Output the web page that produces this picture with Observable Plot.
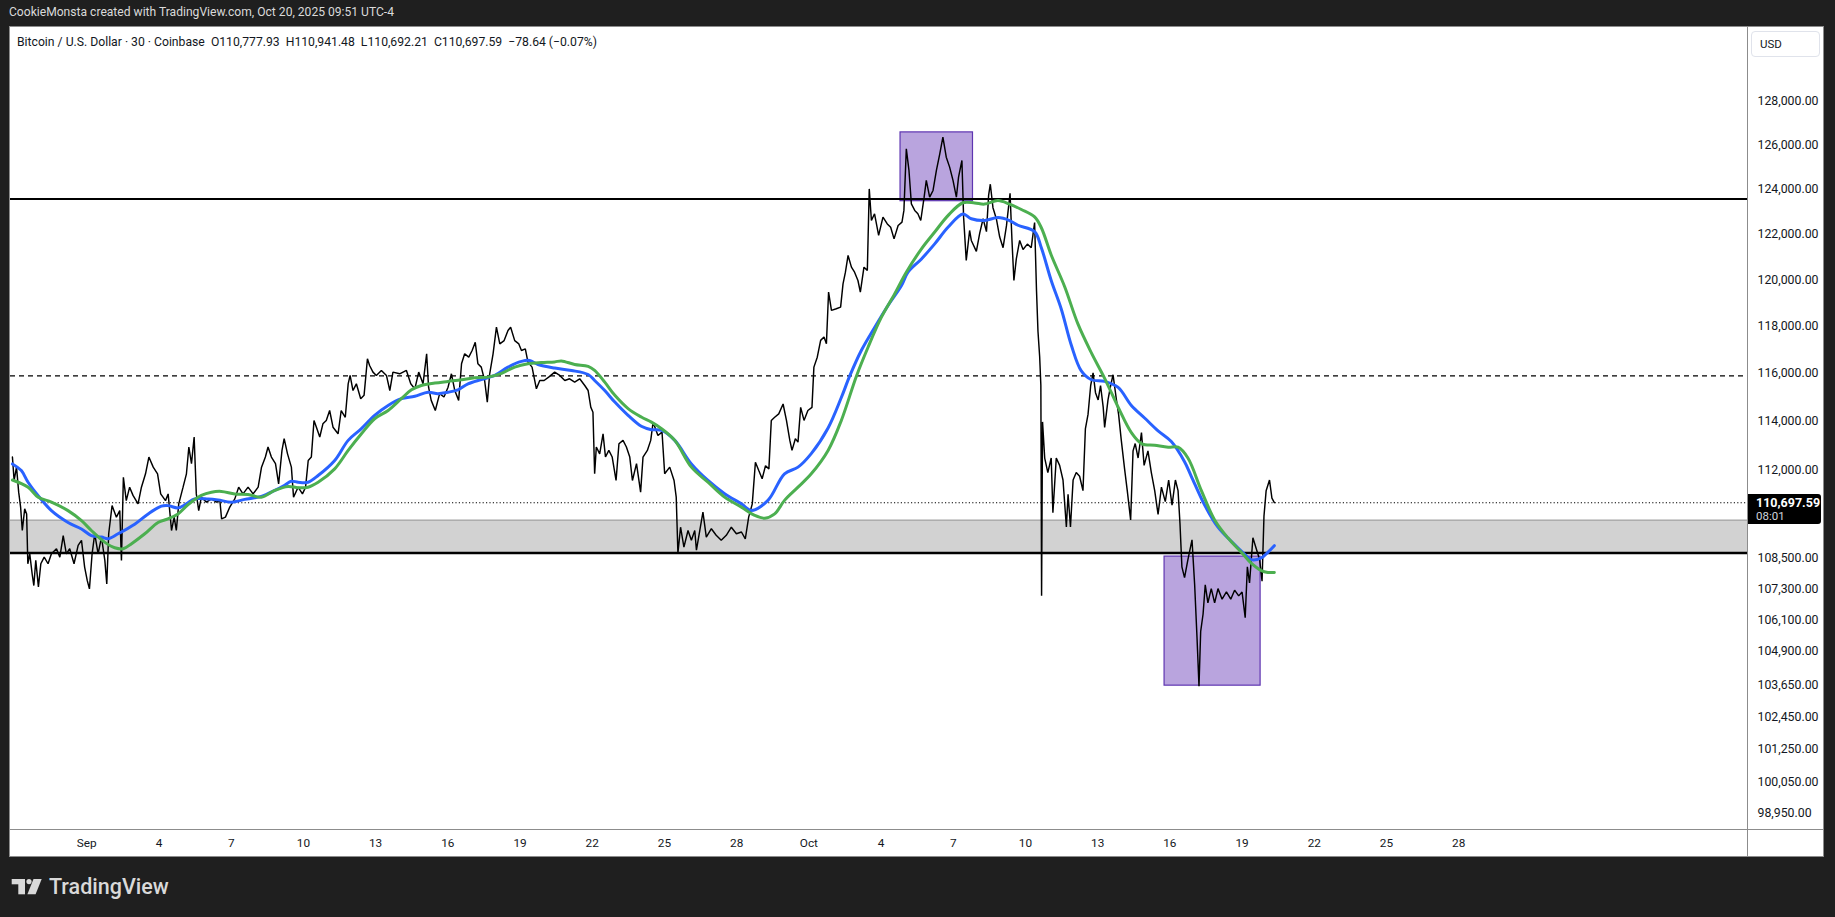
<!DOCTYPE html>
<html><head><meta charset="utf-8">
<script src="https://cdn.jsdelivr.net/npm/d3@7"></script>
<script src="https://cdn.jsdelivr.net/npm/@observablehq/plot@0.6"></script>
<style>
html,body{margin:0;padding:0;background:#1f1f1f;width:1835px;height:917px;overflow:hidden;font-family:Roboto,"Noto Sans",sans-serif;}
#credit{position:absolute;left:9px;top:4px;color:#dadada;font-size:12.1px;line-height:17px;white-space:pre;}
#panel{position:absolute;left:9px;top:26px;width:1813px;height:829px;background:#fff;border:1px solid #8c8c8c;}
#chart{position:absolute;left:10px;top:27px;}
#legend{position:absolute;left:17px;top:34px;color:#131722;font-size:12.2px;line-height:16px;white-space:pre;z-index:3;}
.sep{position:absolute;background:#8c8c8c;z-index:3;}
#usd{position:absolute;left:1751px;top:31px;width:67px;height:24px;border:1px solid #e0e3eb;border-radius:4px;color:#131722;font-size:11.5px;line-height:24px;box-sizing:content-box;z-index:3;}
#usd span{position:absolute;left:8px;}
#plabel{position:absolute;left:1748px;width:73px;height:30px;background:#000;border-radius:0 3px 3px 0;color:#fff;z-index:3;}
#plabel .v{position:absolute;left:8px;top:1px;font-size:12.5px;font-weight:700;}
#plabel .t{position:absolute;left:8px;top:15px;font-size:11.5px;color:#d1d4dc;}
#logo{position:absolute;left:0;top:870px;}
</style></head><body>
<div id="credit"></div>
<div id="panel"></div>
<div id="chart"></div>
<div id="legend"></div>
<div class="sep" style="left:10px;top:829px;width:1813px;height:1px;"></div>
<div class="sep" style="left:1747px;top:27px;width:1px;height:829px;"></div>
<div id="usd"><span></span></div>
<div id="plabel"><span class="v"></span><span class="t"></span></div>
<svg id="logo" width="200" height="40" viewBox="0 0 200 40">
  <rect x="11.7" y="9" width="13.3" height="5.3" fill="#d9d9d9"/>
  <rect x="18.3" y="9" width="6.7" height="15.3" fill="#d9d9d9"/>
  <circle cx="29" cy="11.6" r="2.6" fill="#d9d9d9"/>
  <polygon points="33.5,9 41.7,9 35.6,24.3 27.4,24.3" fill="#d9d9d9"/>
  <text x="49" y="24.3" fill="#d9d9d9" font-family="Roboto, sans-serif" font-size="21.5" font-weight="500" id="logotext"></text>
</svg>
<script>
// ---------- text ----------
const creditText = "CookieMonsta created with TradingView.com, Oct 20, 2025 09:51 UTC-4";
const legendText = "Bitcoin / U.S. Dollar \u00b7 30 \u00b7 Coinbase  O110,777.93  H110,941.48  L110,692.21  C110,697.59  \u221278.64 (\u22120.07%)";
const brandText = "TradingView";
const currencyText = "USD";
const countdownText = "08:01";

// ---------- levels (USD) ----------
const resistanceLevel = 123550;
const midDashedLevel = 115890;
const bandTop = 110000;
const supportLevel = 108700;
const lastClose = 110697.59;

// ---------- highlighted boxes (days since Sep 1, prices) ----------
const boxStart = [33.81, 44.78];
const boxEnd = [36.82, 48.77];
const boxTop = [126560, 108560];
const boxBottom = [123450, 103610];

// ---------- axes ----------
const yTickValues = [128000,126000,124000,122000,120000,118000,116000,114000,112000,108500,107300,106100,104900,103650,102450,101250,100050,98950];
const xTickDays = [0,3,6,9,12,15,18,21,24,27,30,33,36,39,42,45,48,51,54,57];
const xDomainDays = [-3.17, 69.0];
const yDomain = [98358, 131453];

// ---------- price path [days since Sep 1, price] ----------
const pricePath = [
[-3.09,112540],[-3.02,111590],[-2.92,112130],[-2.83,111120],[-2.75,110520],[-2.68,109590],[-2.58,110450],[-2.50,110250],[-2.45,108280],[-2.37,108670],[-2.27,107880],[-2.20,107430],[-2.12,108410],[-2.01,107380],[-1.91,108280],[-1.77,108540],[-1.61,108280],[-1.47,108670],[-1.26,108870],[-1.12,108540],[-0.98,109390],[-0.85,108670],[-0.71,108870],[-0.53,108280],[-0.36,109000],[-0.22,109200],[-0.09,108150],[0.02,107620],[0.11,107300],[0.22,108670],[0.33,109460],[0.47,108670],[0.61,109330],[0.75,108410],[0.83,107490],[0.91,109460],[1.05,110580],[1.23,110120],[1.37,110380],[1.44,108410],[1.52,111720],[1.64,110780],[1.78,111320],[1.92,110990],[2.13,110650],[2.27,111320],[2.44,111860],[2.58,112540],[2.76,112130],[2.94,111860],[3.07,111050],[3.27,110780],[3.38,111050],[3.52,109590],[3.63,110120],[3.72,109590],[3.82,110650],[4.00,111320],[4.14,111860],[4.24,112950],[4.35,112270],[4.46,113360],[4.55,111050],[4.65,110380],[4.76,110920],[4.97,110720],[5.18,110850],[5.39,110720],[5.53,110780],[5.60,110050],[5.76,110120],[5.94,110520],[6.15,110850],[6.31,111320],[6.49,111050],[6.70,111320],[6.91,111050],[7.12,111320],[7.26,112130],[7.42,112540],[7.53,112950],[7.67,112540],[7.84,112270],[7.97,111450],[8.11,112810],[8.20,113290],[8.34,112670],[8.50,112130],[8.59,110920],[8.78,111320],[8.96,111050],[9.09,111320],[9.20,112400],[9.33,112540],[9.44,114040],[9.54,113760],[9.68,113360],[9.81,113900],[9.95,114040],[10.09,114450],
[10.23,113760],[10.44,113490],[10.57,114450],[10.74,114170],[10.86,115560],[10.94,115910],[11.06,115280],[11.20,115560],[11.38,114940],[11.52,115080],[11.66,116610],[11.75,116330],[11.89,116050],[12.03,115910],[12.24,116120],[12.45,115910],[12.59,115280],[12.72,116050],[13.00,115980],[13.28,116120],[13.46,115560],[13.63,115350],[13.79,116050],[13.97,115560],[14.12,116820],[14.20,115420],[14.31,114870],[14.48,114450],[14.66,115150],[14.84,115010],[15.01,115420],[15.15,115980],[15.29,115280],[15.45,114870],[15.57,116400],[15.70,116820],[15.87,116680],[16.01,116960],[16.14,117310],[16.25,116400],[16.39,116260],[16.53,115700],[16.64,114800],[16.74,115980],[16.88,116820],[17.02,117950],[17.16,117240],[17.34,117380],[17.50,117810],[17.61,117950],[17.78,117380],[17.95,117240],[18.06,116960],[18.22,117030],[18.33,116470],[18.50,116260],[18.68,115350],[18.82,115700],[19.00,115700],[19.19,115840],[19.44,116050],[19.65,115910],[19.86,115700],[20.06,115770],[20.27,115630],[20.48,115770],[20.69,115490],[20.83,115280],[20.94,114590],[21.03,114380],[21.10,111860],[21.17,112950],[21.31,112670],[21.45,113490],[21.55,112540],[21.69,112810],[21.83,112540],[21.99,111590],[22.11,113080],[22.28,113220],[22.42,112950],[22.56,112540],[22.67,111590],[22.84,112270],[23.01,111120],[23.11,112540],[23.29,112810],[23.43,113220],
[23.53,113970],[23.73,113420],[23.90,113560],[24.01,111860],[24.22,112130],[24.40,111590],[24.49,110920],[24.56,108690],[24.67,109720],[24.81,108930],[24.98,109590],[25.12,109200],[25.26,109590],[25.33,108810],[25.47,109590],[25.60,110320],[25.74,109330],[25.95,109660],[26.15,109400],[26.36,109200],[26.57,109400],[26.78,109720],[26.99,109460],[27.20,109530],[27.36,109260],[27.50,110120],[27.65,110650],[27.78,112330],[27.92,111990],[28.06,111660],[28.20,112190],[28.34,112060],[28.44,114040],[28.58,114170],[28.75,114310],[28.93,114720],[29.07,114040],[29.21,113220],[29.30,112810],[29.44,113290],[29.55,113150],[29.66,114580],[29.80,114040],[29.96,114450],[30.13,114580],[30.21,116260],[30.35,116680],[30.49,117390],[30.63,117530],[30.73,117250],[30.82,119460],[30.94,118670],[31.14,118740],[31.32,118810],[31.42,119810],[31.52,120320],[31.63,121050],[31.77,120540],[31.90,120320],[32.04,119960],[32.14,119460],[32.29,120540],[32.43,120400],[32.51,124000],[32.60,122590],[32.73,122890],[32.90,121930],[33.08,122740],[33.26,122440],[33.40,122290],[33.54,121780],[33.71,122370],[33.87,122520],[33.95,123040],[34.05,125810],[34.16,124830],[34.26,123330],[34.40,123040],[34.53,122890],[34.65,122590],[34.79,123630],[34.88,124380],[35.02,123630],[35.16,123930],[35.30,124830],[35.44,125580],[35.57,126340],[35.71,125430],[35.85,124980],[35.99,124380],[36.13,123630],[36.22,124530],[36.36,125280],[36.43,122740],[36.54,120830],[36.68,122150],
[36.75,121710],[36.96,121230],[37.10,122030],[37.24,122670],[37.38,122100],[37.47,123720],[37.54,124210],[37.65,123160],[37.79,122670],[37.93,121860],[38.07,121390],[38.21,122350],[38.36,123800],[38.44,121710],[38.52,119960],[38.62,120900],[38.76,121710],[38.90,121310],[39.08,121550],[39.24,121390],[39.38,122500],[39.46,119500],[39.52,117780],[39.59,116710],[39.64,115490],[39.67,107030],[39.71,113980],[39.80,112500],[39.93,111910],[40.07,112500],[40.14,110300],[40.28,112500],[40.42,112200],[40.56,111610],[40.70,109730],[40.77,111030],[40.87,109730],[40.98,111610],[41.11,111910],[41.25,111760],[41.39,111180],[41.49,113690],[41.60,114290],[41.71,115490],[41.81,116020],[41.91,115190],[42.02,114890],[42.12,115490],[42.23,114590],[42.29,113750],[42.43,114890],[42.54,115490],[42.64,115940],[42.78,114890],[42.87,114290],[42.98,113240],[43.12,112050],[43.23,111180],[43.37,110010],[43.47,112790],[43.56,113090],[43.68,112500],[43.82,113540],[43.93,112200],[44.09,112790],[44.23,111910],[44.37,111180],[44.51,110230],[44.65,111320],[44.81,110740],[44.95,111610],[45.09,110600],[45.23,111610],[45.34,111180],[45.42,109870],[45.50,108160],[45.61,107740],[45.75,108440],[45.92,109220],[46.03,107460],[46.13,105380],[46.21,103590],[46.28,105660],[46.38,106330],[46.47,107460],[46.58,106760],[46.72,107310],[46.86,106760],[47.00,107310],[47.17,106900],[47.35,107180],[47.53,106900],[47.69,107250],[47.86,107030],[48.00,107180],[48.13,106190],[48.22,108160],[48.31,107530],[48.45,109300],[48.59,108870],[48.73,108440],[48.83,107600],[48.91,110160],[49.00,111180],[49.14,111610],[49.24,110880],[49.34,110700]
];

// ---------- moving averages [days since Sep 1, price] ----------
const blueMA = [
[-3.09,112260],[-2.72,111990],[-2.44,111520],[-2.02,110980],[-1.47,110380],[-0.78,109910],[-0.22,109650],[0.19,109390],[0.61,109330],[0.88,109260],[1.30,109460],[1.99,109840],[2.55,110250],[3.10,110560],[3.38,110580],[3.79,110490],[4.14,110650],[4.48,110850],[5.04,110850],[5.45,110810],[6.01,110720],[6.56,110830],[7.25,110950],[7.81,111190],[8.22,111400],[8.50,111560],[8.78,111520],[9.19,111520],[9.61,111790],[10.30,112400],[10.86,113220],[11.41,113700],[11.96,114250],[12.52,114660],[13.07,114940],[13.63,115040],[14.18,115210],[14.59,115150],[15.01,115210],[15.42,115310],[15.84,115560],[16.39,115740],[16.95,115910],[17.50,116260],[18.06,116500],[18.40,116540],[18.75,116370],[19.44,116220],[20.14,116120],[20.83,115950],[21.10,115700],[21.52,115280],[21.94,114800],[22.49,114250],[23.04,113800],[23.46,113660],[23.88,113630],[24.43,113220],[25.12,112260],[25.81,111590],[26.50,111060],[27.20,110650],[27.61,110390],[28.30,110790],[28.99,111860],[29.55,112130],[30.10,112680],[30.80,113730],[31.35,114990],[31.70,115890],[32.18,116960],[32.74,117950],[33.29,118880],[33.85,119740],[34.12,120320],[34.68,120900],[35.23,121560],[35.79,122300],[36.40,122880],[36.75,122670],[37.30,122590],[37.86,122720],[38.34,122590],[38.69,122380],[39.38,122100],[39.66,121390],[40.07,119960],[40.49,118720],[40.91,117170],[41.32,116100],[41.74,115730],[42.29,115660],[42.85,115410],[43.40,114660],[43.95,114140],[44.51,113610],[45.06,113170],[45.61,112350],[45.89,111760],[46.44,110610],[46.99,109730],[47.55,109160],[48.10,108660],[48.38,108440],[48.80,108510],[49.07,108730],[49.34,108990]
];
const greenMA = [
[-3.09,111610],[-2.44,111320],[-2.02,110920],[-1.47,110720],[-0.78,110380],[-0.22,109980],[0.19,109590],[0.74,109130],[1.16,108910],[1.51,108870],[1.86,109070],[2.41,109460],[2.96,109910],[3.37,110050],[3.79,110250],[4.21,110620],[4.76,110990],[5.18,111120],[5.59,111150],[6.15,111050],[6.70,111030],[7.25,110920],[7.81,111190],[8.36,111350],[8.78,111300],[9.19,111320],[9.61,111520],[10.30,112060],[10.86,112810],[11.41,113490],[11.96,114110],[12.52,114450],[13.07,114940],[13.49,115310],[13.90,115490],[14.46,115590],[15.01,115660],[15.57,115730],[16.12,115810],[16.67,115840],[17.23,116000],[17.78,116260],[18.33,116400],[18.89,116450],[19.44,116480],[19.72,116520],[20.27,116370],[20.83,116290],[21.10,116120],[21.52,115630],[21.94,115080],[22.49,114530],[23.04,114180],[23.46,113970],[23.88,113700],[24.43,113220],[25.12,112130],[25.81,111520],[26.50,110920],[27.20,110520],[27.75,110190],[28.17,110080],[28.58,110250],[28.99,110790],[29.55,111320],[30.10,111860],[30.80,112810],[31.35,114040],[31.98,115890],[32.46,117100],[33.01,118370],[33.57,119390],[34.05,120320],[34.68,121340],[35.23,122080],[35.79,122820],[36.40,123380],[36.89,123370],[37.30,123320],[37.86,123480],[38.34,123320],[38.83,123080],[39.38,122750],[39.66,122270],[40.07,121070],[40.63,119690],[41.18,118090],[41.74,116860],[42.29,115790],[42.85,114590],[43.40,113540],[43.82,113090],[44.37,113020],[44.93,112940],[45.34,112940],[45.75,112500],[46.31,111180],[46.86,110010],[47.41,109300],[47.97,108730],[48.38,108300],[48.80,108010],[49.07,107940],[49.34,107940]
];

// ---------- build ----------
const DAY = 864e5;
const t0 = Date.UTC(2025, 8, 1);
const toDate = d => new Date(t0 + d * DAY);
const months = ["Jan","Feb","Mar","Apr","May","Jun","Jul","Aug","Sep","Oct","Nov","Dec"];
const asRows = arr => arr.map(([d, p]) => ({date: toDate(d), price: p}));
const price = asRows(pricePath);
const blue = asRows(blueMA);
const green = asRows(greenMA);
const boxes = boxStart.map((s, i) => ({x1: toDate(s), x2: toDate(boxEnd[i]), y1: boxBottom[i], y2: boxTop[i]}));
const xDomain = xDomainDays.map(toDate);
const xTicks = xTickDays.map(toDate);
const fmtPrice = d3.format(",.2f");

const W = 1813, H = 829, MR = 76, MB = 27;
const chart = Plot.plot({
  width: W, height: H,
  marginLeft: 0, marginRight: MR, marginTop: 0, marginBottom: MB,
  style: {background: "#ffffff", color: "#131722", fontFamily: "Roboto, 'Noto Sans', sans-serif", fontSize: "12px", overflow: "visible"},
  x: {type: "utc", domain: xDomain},
  y: {type: "log", domain: yDomain},
  marks: [
    Plot.rect([{y1: supportLevel, y2: bandTop}], {x1: () => xDomain[0], x2: () => xDomain[1], y1: "y1", y2: "y2", fill: "#d2d2d2"}),
    Plot.ruleY([bandTop], {stroke: "#9a9a9a", strokeWidth: 1}),
    Plot.rect(boxes, {x1: "x1", x2: "x2", y1: "y1", y2: "y2", fill: "#9575cd", fillOpacity: 0.66, stroke: "#5e35b1", strokeWidth: 1.2}),
    Plot.ruleY([resistanceLevel], {stroke: "#000", strokeWidth: 2}),
    Plot.ruleY([supportLevel], {stroke: "#000", strokeWidth: 2.5}),
    Plot.ruleY([midDashedLevel], {stroke: "#000", strokeWidth: 1.2, strokeDasharray: "5,4"}),
    Plot.ruleY([lastClose], {stroke: "#000", strokeWidth: 1.1, strokeDasharray: "1.2,2.2"}),
    Plot.line(price, {x: "date", y: "price", stroke: "#000", strokeWidth: 1.45, strokeLinejoin: "miter"}),
    Plot.line(blue, {x: "date", y: "price", stroke: "#2962ff", strokeWidth: 3, curve: "catmull-rom"}),
    Plot.line(green, {x: "date", y: "price", stroke: "#4caf50", strokeWidth: 3, curve: "catmull-rom"}),
    Plot.axisY(yTickValues, {anchor: "right", tickSize: 0, tickPadding: 10, textAnchor: "start", tickFormat: fmtPrice, fill: "#131722", fontSize: 12.3}),
    Plot.axisX(xTicks, {anchor: "bottom", tickSize: 0, tickPadding: 9, fill: "#131722", fontSize: 11.8,
      tickFormat: d => d.getUTCDate() === 1 ? months[d.getUTCMonth()] : String(d.getUTCDate())})
  ]
});
document.getElementById("chart").appendChild(chart);

document.getElementById("credit").textContent = creditText;
document.getElementById("legend").textContent = legendText;
document.getElementById("logotext").textContent = brandText;
document.querySelector("#usd span").textContent = currencyText;
const lbl = document.getElementById("plabel");
lbl.style.top = (27 + chart.scale("y").apply(lastClose) - 8) + "px";
lbl.querySelector(".v").textContent = fmtPrice(lastClose);
lbl.querySelector(".t").textContent = countdownText;
</script>
</body></html>
